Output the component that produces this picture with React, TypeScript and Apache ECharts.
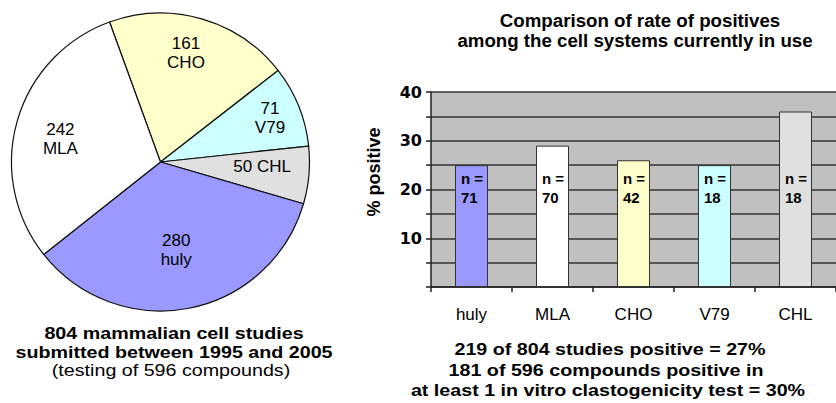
import React, { useEffect, useRef } from 'react';
import * as echarts from 'echarts';

// Studies submitted per cell system (pie, clockwise from CHO)
const studySystems = ['CHO', 'V79', 'CHL', 'huly', 'MLA'];
const studyCounts = [161, 71, 50, 280, 242];

// Rate of positives per cell system (bars)
const barSystems = ['huly', 'MLA', 'CHO', 'V79', 'CHL'];
const percentPositive = [25, 29, 26, 25, 36];
const sampleSizes = [71, 70, 42, 18, 18];

const pieCaption = ['804 mammalian cell studies', 'submitted between 1995 and 2005', '(testing of 596 compounds)'];
const barTitle = ['Comparison of rate of positives', 'among the cell systems currently in use'];
const barCaption = ['219 of 804 studies positive = 27%', '181 of 596 compounds positive in', 'at least 1 in vitro clastogenicity test = 30%'];

const FONT = '"Liberation Sans", Arial, Helvetica, sans-serif';
const WIDE_FONT = '"DejaVu Sans", Verdana, sans-serif';

const systemColors: Record<string, string> = {
  huly: '#9999ff',
  MLA: '#ffffff',
  CHO: '#ffffcc',
  V79: '#ccffff',
  CHL: '#e0e0e0',
};

// small per-slice label nudges (px)
const labelNudge: Record<string, [number, number]> = {
  CHO: [-3, -10],
  V79: [14, -5],
  CHL: [-1, -5],
  huly: [-4, -13],
  MLA: [-1, 5],
};

const PIE_CENTER: [number, number] = [160.5, 162];
const PIE_RADIUS = 149;

type Line = { text: string; x: number; y: number; weight: string };

export default function App() {
  const ref = useRef<HTMLDivElement>(null);

  useEffect(() => {
    if (!ref.current) return;
    const chart = echarts.init(ref.current, undefined, { renderer: 'svg' });

    const pieData = studySystems.map((name, i) => ({
      name,
      value: studyCounts[i],
      itemStyle: { color: systemColors[name] },
    }));

    const labelData = studySystems.map((name, i) => ({
      name,
      value: studyCounts[i],
      label: { offset: labelNudge[name] },
    }));

    // caption text, slightly widened horizontally
    const caption = (l: Line, size: number, scaleX: number) => ({
      type: 'text',
      x: l.x,
      y: l.y,
      scaleX,
      style: {
        text: l.text,
        fill: '#000',
        font: `${l.weight} ${size}px ${FONT}`,
        textAlign: 'center',
        textVerticalAlign: 'middle',
      },
    });

    const leftLines: Line[] = [
      { text: pieCaption[0], x: 174, y: 334, weight: 'bold' },
      { text: pieCaption[1], x: 174, y: 352.5, weight: 'bold' },
      { text: pieCaption[2], x: 171, y: 371, weight: 'normal' },
    ];
    const rightLines: Line[] = [
      { text: barCaption[0], x: 610, y: 350, weight: 'bold' },
      { text: barCaption[1], x: 606, y: 370.5, weight: 'bold' },
      { text: barCaption[2], x: 608, y: 391, weight: 'bold' },
    ];
    const titleLines: Line[] = [
      { text: barTitle[0], x: 640, y: 20, weight: 'bold' },
      { text: barTitle[1], x: 635, y: 40, weight: 'bold' },
    ];

    chart.setOption({
      animation: false,
      textStyle: { fontFamily: FONT },
      graphic: [
        ...leftLines.map((l) => caption(l, 16.4, 1.2)),
        ...rightLines.map((l) => caption(l, 16.4, 1.2)),
        ...titleLines.map((l) => caption(l, 18.7, 1)),
      ],
      grid: {
        left: 431,
        top: 92,
        right: -9,
        bottom: 116,
        show: true,
        backgroundColor: '#c0c0c0',
        borderWidth: 0,
      },
      xAxis: {
        type: 'category',
        data: barSystems,
        axisLine: { lineStyle: { color: '#222', width: 1.5 } },
        axisTick: { show: true, length: 5, alignWithLabel: false, lineStyle: { color: '#222', width: 1.5 } },
        axisLabel: { color: '#000', fontSize: 17, margin: 19, fontFamily: FONT },
      },
      yAxis: {
        type: 'value',
        min: 0,
        max: 40,
        interval: 5,
        name: '% positive',
        nameLocation: 'middle',
        nameRotate: 90,
        nameGap: 48,
        nameTextStyle: { color: '#000', fontSize: 18, fontWeight: 'bold', fontFamily: FONT, padding: [0, 0, 0, 35] },
        axisLine: { show: true, lineStyle: { color: '#222', width: 1.5 } },
        axisTick: { show: true, length: 5, lineStyle: { color: '#222', width: 1.5 } },
        axisLabel: {
          color: '#000',
          fontSize: 16,
          fontWeight: 'bold',
          margin: 9,
          padding: [3, 0, 0, 0],
          fontFamily: WIDE_FONT,
          formatter: (v: number) => (v % 10 === 0 && v !== 0 ? String(v) : ''),
        },
        splitLine: { show: true, lineStyle: { color: '#333', width: 1.5 } },
      },
      series: [
        {
          type: 'pie',
          center: PIE_CENTER,
          radius: [0, PIE_RADIUS],
          startAngle: 110,
          clockwise: true,
          silent: true,
          label: { show: false },
          labelLine: { show: false },
          itemStyle: { borderColor: '#111', borderWidth: 1.2 },
          data: pieData,
        },
        {
          // transparent twin of the pie used only to place its labels further out
          type: 'pie',
          center: PIE_CENTER,
          radius: [0, 200],
          startAngle: 110,
          clockwise: true,
          silent: true,
          itemStyle: { color: 'rgba(0,0,0,0)', borderWidth: 0 },
          labelLine: { show: false },
          label: {
            show: true,
            position: 'inside',
            color: '#000',
            fontSize: 17,
            lineHeight: 19,
            fontFamily: FONT,
            formatter: (p: any) => (p.name === 'CHL' ? `${p.value} ${p.name}` : `${p.value}\n${p.name}`),
          },
          data: labelData,
        },
        {
          type: 'bar',
          data: percentPositive.map((v, i) => ({ value: v, itemStyle: { color: systemColors[barSystems[i]] } })),
          barWidth: 33,
          itemStyle: { borderColor: '#333', borderWidth: 1 },
          label: {
            show: true,
            position: 'insideBottomLeft',
            offset: [1, -75],
            color: '#000',
            fontSize: 15,
            fontWeight: 'bold',
            lineHeight: 19,
            fontFamily: FONT,
            formatter: (p: any) => `n =\n${sampleSizes[p.dataIndex]}`,
          },
        },
      ],
    });

    return () => chart.dispose();
  }, []);

  return <div ref={ref} style={{ position: 'absolute', left: 0, top: 0, width: 836, height: 403, background: '#fff' }} />;
}
